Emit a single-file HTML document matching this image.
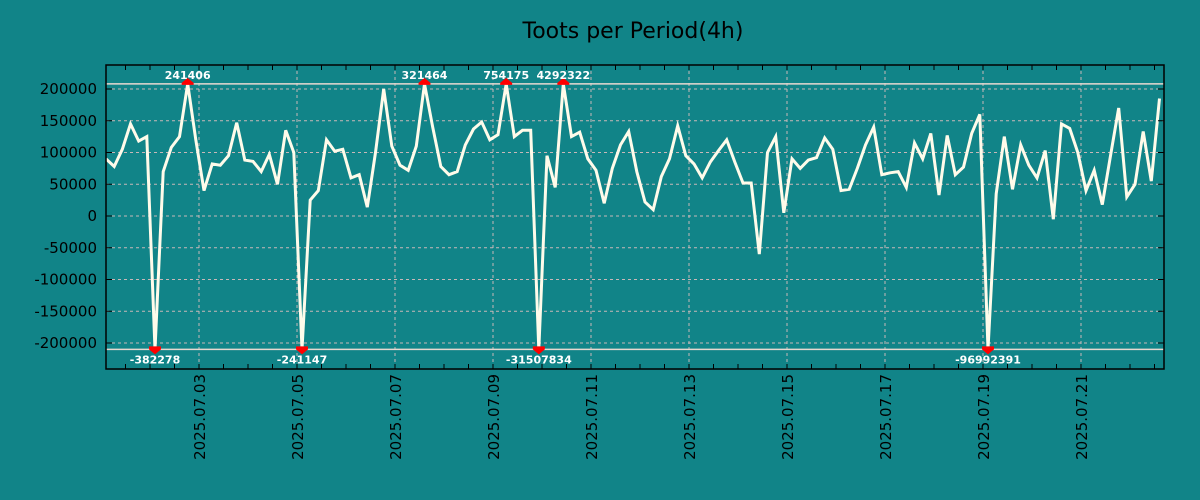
<!DOCTYPE html>
<html><head><meta charset="utf-8"><style>
html,body{margin:0;padding:0;background:#118488;}
svg{display:block;}
text{font-family:"DejaVu Sans","Liberation Sans",sans-serif;}
</style></head><body>
<svg id="chart" width="1200" height="500" xmlns="http://www.w3.org/2000/svg">
<rect x="0" y="0" width="1200" height="500" fill="#118488"/>
<text x="633" y="38" text-anchor="middle" font-size="22" fill="#000">Toots per Period(4h)</text>
<g id="grid"></g>
<g id="plot"></g>
<g id="axes"></g>
</svg>
<script>
const values = [90000,78000,105000,145000,118000,125000,-210000,70000,108000,125000,208000,120000,40000,82000,80000,95000,147000,88000,86000,70000,97000,50000,135000,100000,-210000,25000,40000,120000,102000,105000,60000,65000,14000,100000,200000,110000,80000,72000,110000,208000,140000,78000,65000,70000,112000,137000,148000,120000,128000,208000,125000,135000,135000,-210000,95000,45000,208000,125000,132000,90000,72000,20000,75000,112000,133000,70000,22000,10000,62000,90000,142000,95000,82000,60000,85000,103000,120000,85000,52000,52000,-60000,100000,125000,5000,90000,75000,88000,92000,123000,105000,40000,42000,75000,112000,140000,65000,68000,70000,45000,115000,90000,130000,33000,127000,65000,77000,130000,160000,-210000,35000,125000,42000,112000,80000,60000,103000,-5000,145000,138000,100000,40000,72000,18000,95000,170000,30000,50000,133000,55000,185000];
const peakIdx = [10,39,49,56];
const peakLabels = ["241406","321464","754175","4292322"];
const troughIdx = [6,24,53,108];
const troughLabels = ["-382278","-241147","-31507834","-96992391"];
const yTicks = [200000,150000,100000,50000,0,-50000,-100000,-150000,-200000];
const xTickDays = [3,5,7,9,11,13,15,17,19,21];
const xTickLabels = ["2025.07.03","2025.07.05","2025.07.07","2025.07.09","2025.07.11","2025.07.13","2025.07.15","2025.07.17","2025.07.19","2025.07.21"];
const clipTop = 208000, clipBottom = -210000;

const L=106,R=1164,T=65,B=369;
const NS="http://www.w3.org/2000/svg";
const y=v=>216-v/200000*127;
const dayX=d=>199+(d-3)*49;
const startDay=3-93/49;
const idxX=i=>dayX(startDay+i/6);
function mk(tag,attrs,parent){const e=document.createElementNS(NS,tag);for(const k in attrs)e.setAttribute(k,attrs[k]);parent.appendChild(e);return e;}
const grid=document.getElementById('grid'),plot=document.getElementById('plot'),axes=document.getElementById('axes');
mk('rect',{x:L,y:T,width:R-L,height:B-T,fill:'#118488'},grid);
yTicks.forEach(v=>{
  const l=mk('line',{x1:L,x2:R,y1:y(v),y2:y(v),stroke:'#c8b8b8','stroke-width':1,'stroke-dasharray':'3,3'},grid);
  
  
  const t=mk('text',{x:97,y:y(v)+5,'text-anchor':'end','font-size':15,fill:'#000'},axes);
  t.textContent=v;
  
  
  mk('line',{x1:L,x2:L+6,y1:y(v),y2:y(v),stroke:'#000'},axes);
  mk('line',{x1:R-6,x2:R,y1:y(v),y2:y(v),stroke:'#000'},axes);
});
xTickDays.forEach((d,k)=>{
  const x=dayX(d);
  const l=mk('line',{x1:x,x2:x,y1:T,y2:B,stroke:'#c8b8b8','stroke-width':1,'stroke-dasharray':'3,3'},grid);
  
  
  const t=mk('text',{x:0,y:0,'text-anchor':'end','font-size':15,fill:'#000',transform:`translate(${x+6},374) rotate(-90)`},axes);
  t.textContent=xTickLabels[k];
  
  
});
for(let d=1;d<=23;d+=0.5){const x=dayX(d);if(x<L||x>R)continue;
  mk('line',{x1:x,x2:x,y1:B-5,y2:B,stroke:'#000'},axes);mk('line',{x1:x,x2:x,y1:T,y2:T+5,stroke:'#000'},axes);}
[clipTop,clipBottom].forEach(v=>{
  const l=mk('line',{x1:L,x2:R,y1:y(v),y2:y(v),stroke:'#e8d8d0','stroke-width':1.5},grid);
  
  
});
const cp=mk('clipPath',{id:'pc'},plot);mk('rect',{x:L,y:T,width:R-L,height:B-T},cp);
const pts=values.map((v,i)=>idxX(i).toFixed(1)+','+y(v).toFixed(1)).join(' ');
const line=mk('polyline',{points:pts,fill:'none',stroke:'#fffbea','stroke-width':3,'stroke-linejoin':'miter','clip-path':'url(#pc)'},plot);


peakIdx.forEach((i,k)=>{
  const x=idxX(i),yy=y(values[i]);
  const m=mk('path',{d:`M${x-6},${yy+1} L${x+6},${yy+1} L${x+6},${yy-1} L${x},${yy-6} L${x-6},${yy-1} Z`,fill:'#f00'},plot);
  
  
  const t=mk('text',{x:x,y:yy-5,'text-anchor':'middle','font-size':11,'font-weight':'bold',fill:'#fff','font-family':'DejaVu Sans Mono,monospace'},plot);
  t.textContent=peakLabels[k];
  
  
});
troughIdx.forEach((i,k)=>{
  const x=idxX(i),yy=y(values[i]);
  const m=mk('path',{d:`M${x-6},${yy-3} L${x+6},${yy-3} L${x+6},${yy} L${x},${yy+5} L${x-6},${yy} Z`,fill:'#f00'},plot);
  
  
  const t=mk('text',{x:x,y:yy+14,'text-anchor':'middle','font-size':11,'font-weight':'bold',fill:'#fff','font-family':'DejaVu Sans Mono,monospace'},plot);
  t.textContent=troughLabels[k];
  
  
});
const fr=mk('rect',{x:L,y:T,width:R-L,height:B-T,fill:'none',stroke:'#000','stroke-width':1.5},axes);


</script>
</body></html>
